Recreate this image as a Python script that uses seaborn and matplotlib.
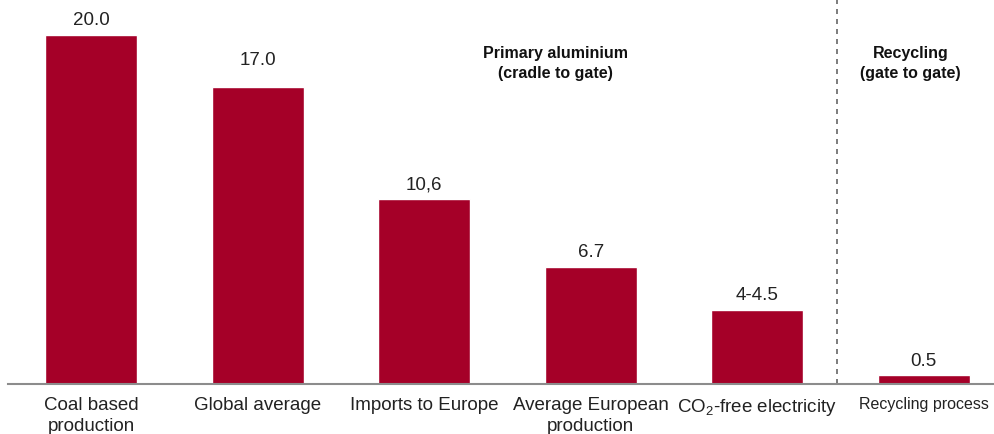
import matplotlib
matplotlib.use("Agg")
import matplotlib.pyplot as plt
import seaborn as sns
import pandas as pd

# Carbon footprint of aluminium production routes
categories = [
    "Coal based\nproduction",
    "Global average",
    "Imports to Europe",
    "Average European\nproduction",
    "CO$_2$-free electricity",
    "Recycling process",
]
values = [20.0, 17.0, 10.6, 6.7, 4.25, 0.5]
value_labels = ["20.0", "17.0", "10,6", "6.7", "4-4.5", "0.5"]
group_titles = ["Primary aluminium\n(cradle to gate)", "Recycling\n(gate to gate)"]

bar_color = "#A50028"
label_offsets = [4, 13, 4, 4, 4, 4]  # points above each bar top

sns.set_theme(style="white")
plt.rcParams["font.family"] = ["Liberation Sans", "DejaVu Sans"]
plt.rcParams["mathtext.fontset"] = "custom"
plt.rcParams["mathtext.rm"] = "Liberation Sans"
plt.rcParams["mathtext.it"] = "Liberation Sans:italic"
plt.rcParams["mathtext.bf"] = "Liberation Sans:bold"

df = pd.DataFrame({"category": categories, "value": values})

fig = plt.figure(figsize=(9.95, 4.34), dpi=100)
ax = fig.add_axes([8 / 995, 50 / 434, 987 / 995, 384 / 434])

sns.barplot(data=df, x="category", y="value", color=bar_color,
            saturation=1, width=0.553, ax=ax, order=categories)

ax.set_xlim(-0.5, -0.5 + 987 / 166.5)
ax.set_ylim(0, 22.0)

# value labels above each bar
for i, (v, txt, off) in enumerate(zip(values, value_labels, label_offsets)):
    ax.annotate(txt, xy=(i, v), xytext=(0, off), textcoords="offset points",
                ha="center", va="bottom", fontsize=13.5, color="#222222")

# axis styling
for side in ["top", "right", "left"]:
    ax.spines[side].set_visible(False)
ax.spines["bottom"].set_color("#8c8c8c")
ax.spines["bottom"].set_linewidth(1.5)
ax.set_yticks([])
ax.set_xlabel("")
ax.set_ylabel("")
ax.tick_params(axis="x", length=0, pad=9, labelsize=13.5, labelcolor="#222222")
tick_labels = ax.get_xticklabels()
tick_labels[-1].set_fontsize(11.5)
for lbl in tick_labels:
    lbl.set_linespacing(1.35)

# separator between primary production and recycling
ax.axvline(4.48, ymin=0, ymax=1, color="#666666", lw=1.2, ls=(0, (3, 3)))

# group headings
ax.text(2.79, 18.37, group_titles[0], ha="center", va="center",
        fontsize=11.5, fontweight="bold", linespacing=1.4, color="#111111")
ax.text(4.92, 18.37, group_titles[1], ha="center", va="center",
        fontsize=11.5, fontweight="bold", linespacing=1.4, color="#111111")

fig.savefig("out.png", dpi=100)
